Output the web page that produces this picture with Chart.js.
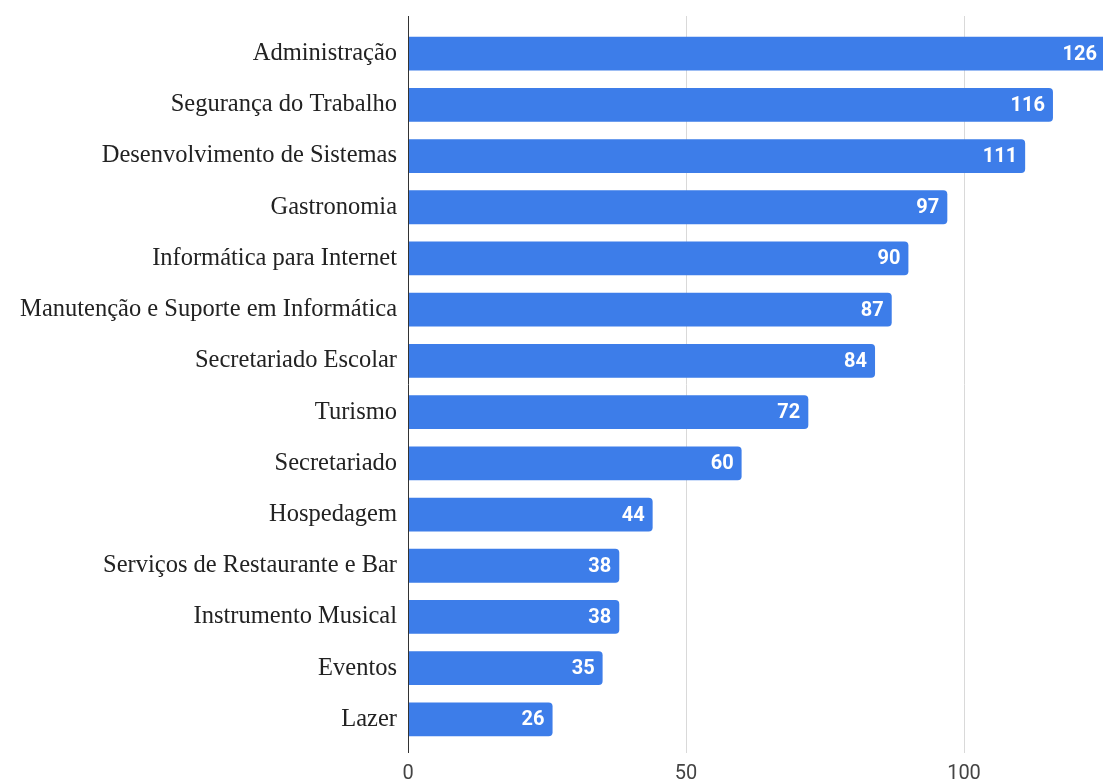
<!DOCTYPE html>
<html>
<head>
<meta charset="utf-8">
<script src="https://cdn.jsdelivr.net/npm/chart.js@4"></script>
<style>
  body { margin: 0; background: #fff; }
  #wrap { width: 1103px; height: 782px; }
</style>
</head>
<body>
<div id="wrap"><canvas id="bar-chart" width="1103" height="782"></canvas></div>
<script>
// Cursos (horizontal bars)

const cursos = ["Administração", "Segurança do Trabalho", "Desenvolvimento de Sistemas", "Gastronomia",
  "Informática para Internet", "Manutenção e Suporte em Informática", "Secretariado Escolar", "Turismo",
  "Secretariado", "Hospedagem", "Serviços de Restaurante e Bar", "Instrumento Musical", "Eventos", "Lazer"];
const alunos = [126, 116, 111, 97, 90, 87, 84, 72, 60, 44, 38, 38, 35, 26];
const xTicks = [0, 50, 100];

// grid lines run a little above and below the plot area
const gridLines = {
  id: 'gridLines',
  beforeDatasetsDraw(chart) {
    const { ctx, chartArea, scales } = chart;
    ctx.save();
    ctx.lineWidth = 1;
    ctx.strokeStyle = '#d9d9d9';
    xTicks.forEach(v => {
      if (v === 0) return;
      const px = Math.round(scales.x.getPixelForValue(v)) + 0.5;
      ctx.beginPath();
      ctx.moveTo(px, chartArea.top - 12);
      ctx.lineTo(px, chartArea.bottom + 8);
      ctx.stroke();
    });
    ctx.restore();
  },
  afterDatasetsDraw(chart) {
    const { ctx, chartArea, scales } = chart;
    const px = Math.round(scales.x.getPixelForValue(0)) + 0.5;
    ctx.save();
    ctx.strokeStyle = '#333';
    ctx.lineWidth = 1;
    ctx.beginPath();
    ctx.moveTo(px, chartArea.top - 12);
    ctx.lineTo(px, chartArea.bottom + 8);
    ctx.stroke();
    // value labels inside bar ends
    ctx.font = 'bold 20px Roboto, "Noto Sans", sans-serif';
    ctx.fillStyle = '#fff';
    ctx.textAlign = 'right';
    ctx.textBaseline = 'middle';
    chart.getDatasetMeta(0).data.forEach((bar, i) => {
      const end = Math.min(bar.x, chartArea.right + 2);
      ctx.fillText(String(alunos[i]), end - 8, bar.y + 1);
    });
    ctx.restore();
  }
};

new Chart(document.getElementById("bar-chart"), {
  type: 'bar',
  data: {
    labels: cursos,
    datasets: [{
      data: alunos,
      backgroundColor: '#3d7de9',
      borderRadius: 4,
      barPercentage: 0.66,
      categoryPercentage: 1
    }]
  },
  plugins: [gridLines],
  options: {
    indexAxis: 'y',
    responsive: false,
    animation: false,
    layout: { padding: { top: 28, right: 0, left: 0, bottom: 0 } },
    plugins: {
      legend: { display: false },
      tooltip: { enabled: false }
    },
    scales: {
      x: {
        min: 0,
        max: 125,
        grid: { display: false, drawTicks: false },
        border: { display: false },
        afterBuildTicks: axis => { axis.ticks = xTicks.map(v => ({ value: v })); },
        afterFit: axis => { axis.height = 37; },
        ticks: {
          padding: 17,
          color: '#444',
          font: { family: 'Roboto, "Noto Sans", sans-serif', size: 20 }
        }
      },
      y: {
        grid: { display: false, drawTicks: false },
        border: { display: false },
        afterFit: axis => { axis.width = 408; },
        ticks: {
          padding: 11,
          color: '#222',
          font: { family: '"Liberation Serif", "Times New Roman", serif', size: 24.5 }
        }
      }
    }
  }
});
</script>
</body>
</html>
